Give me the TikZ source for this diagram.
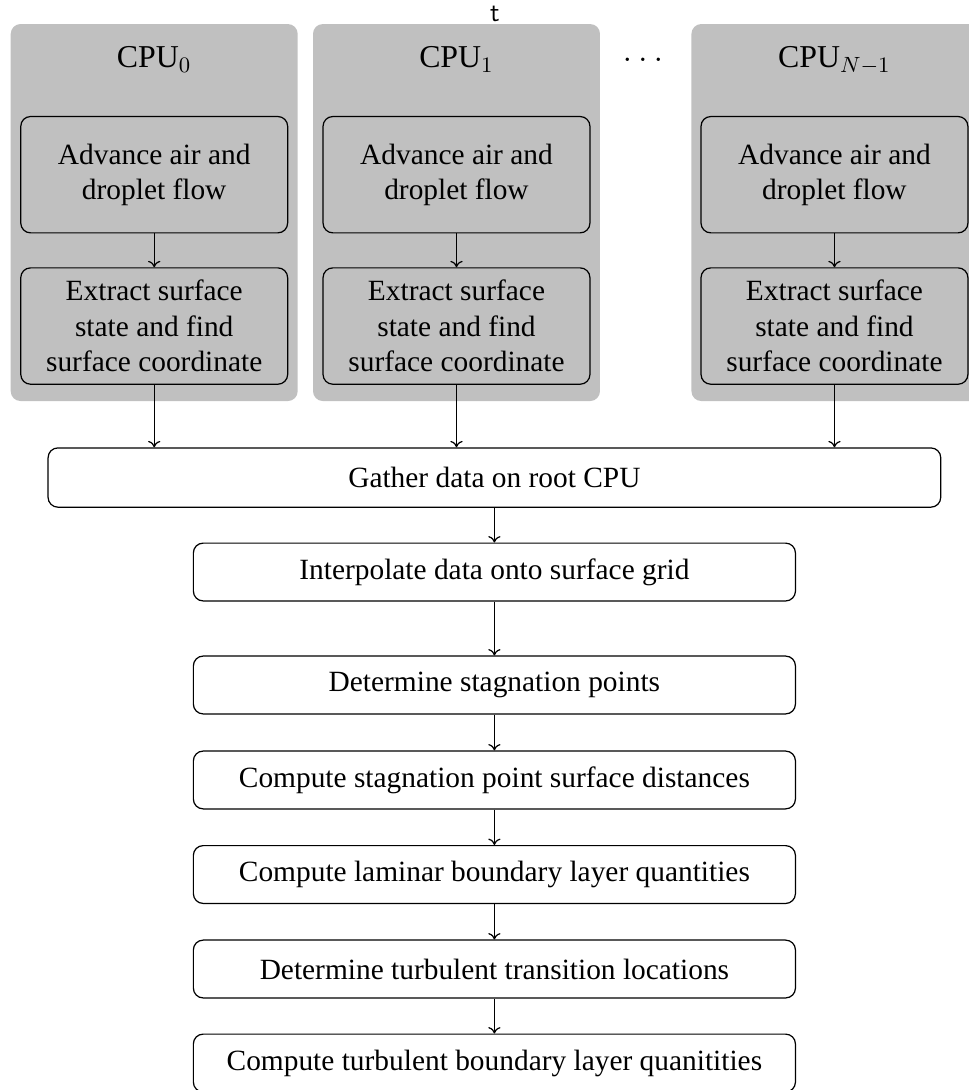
\documentclass[tikz,border=0pt]{standalone}
\usepackage{fontspec}
\setmainfont{Liberation Serif}
\usetikzlibrary{arrows.meta}
\definecolor{cpugray}{RGB}{192,192,192}
\tikzset{
  every path/.style={line width=0.5pt},
  stage/.style={draw, rounded corners, fill=cpugray, minimum width=3.83cm, minimum height=1.67cm, align=center, inner sep=2pt, font=\fontsize{12}{14.5}\selectfont},
  task/.style={draw, rounded corners, minimum width=8.64cm, minimum height=0.83cm, font=\fontsize{12}{14.5}\selectfont},
  cpulabel/.style={anchor=base, font=\fontsize{13}{15}\selectfont},
  flow/.style={-{To[length=2.6pt, width=5pt]}},
}
\begin{document}
\begin{tikzpicture}
\useasboundingbox (0,0) rectangle (13.905,15.642);

\fill[cpugray, rounded corners] (0.154,9.887) rectangle (4.272,15.297);
\fill[cpugray, rounded corners] (4.492,9.887) rectangle (8.610,15.297);
\fill[cpugray, rounded corners] (9.923,9.887) rectangle (14.041,15.297);

\node[anchor=base, font=\sffamily\fontsize{11}{13}\selectfont] (tlabel) at (7.103,15.34) {t};
\node[anchor=base, font=\fontsize{14}{16}\selectfont] (dots) at (9.227,14.76) {$\dots$};

\node[cpulabel] (cpu0) at (2.213,14.67) {CPU$_0$};
\node[cpulabel] (cpu1) at (6.551,14.67) {CPU$_1$};
\node[cpulabel] (cpun) at (11.975,14.67) {CPU$_{N-1}$};

\node[stage] (adv0) at (2.213,13.135) {Advance air and\\droplet flow};
\node[stage] (ext0) at (2.213,10.963) {Extract surface\\state and find\\surface coordinate};
\node[stage] (adv1) at (6.551,13.135) {Advance air and\\droplet flow};
\node[stage] (ext1) at (6.551,10.963) {Extract surface\\state and find\\surface coordinate};
\node[stage] (advn) at (11.975,13.135) {Advance air and\\droplet flow};
\node[stage] (extn) at (11.975,10.963) {Extract surface\\state and find\\surface coordinate};

\node[task, minimum width=12.81cm, minimum height=0.85cm] (gather) at (7.095,8.789) {Gather data on root CPU};
\node[task] (interp) at (7.095,7.433) {Interpolate data onto surface grid};
\node[task] (stagpts) at (7.095,5.812) {Determine stagnation points};
\node[task] (stagdist) at (7.095,4.449) {Compute stagnation point surface distances};
\node[task] (laminar) at (7.095,3.092) {Compute laminar boundary layer quantities};
\node[task] (transition) at (7.095,1.736) {Determine turbulent transition locations};
\node[task] (turbulent) at (7.095,0.387) {Compute turbulent boundary layer quanitities};

\draw[flow] (adv0) -- (ext0);
\draw[flow] (adv1) -- (ext1);
\draw[flow] (advn) -- (extn);

\draw[flow] (ext0.south) -- (ext0.south |- gather.north);
\draw[flow] (ext1.south) -- (ext1.south |- gather.north);
\draw[flow] (extn.south) -- (extn.south |- gather.north);

\draw[flow] (gather.south -| interp.north) -- (interp);
\draw[flow] (interp) -- (stagpts);
\draw[flow] (stagpts) -- (stagdist);
\draw[flow] (stagdist) -- (laminar);
\draw[flow] (laminar) -- (transition);
\draw[flow] (transition) -- (turbulent);

\end{tikzpicture}
\end{document}
